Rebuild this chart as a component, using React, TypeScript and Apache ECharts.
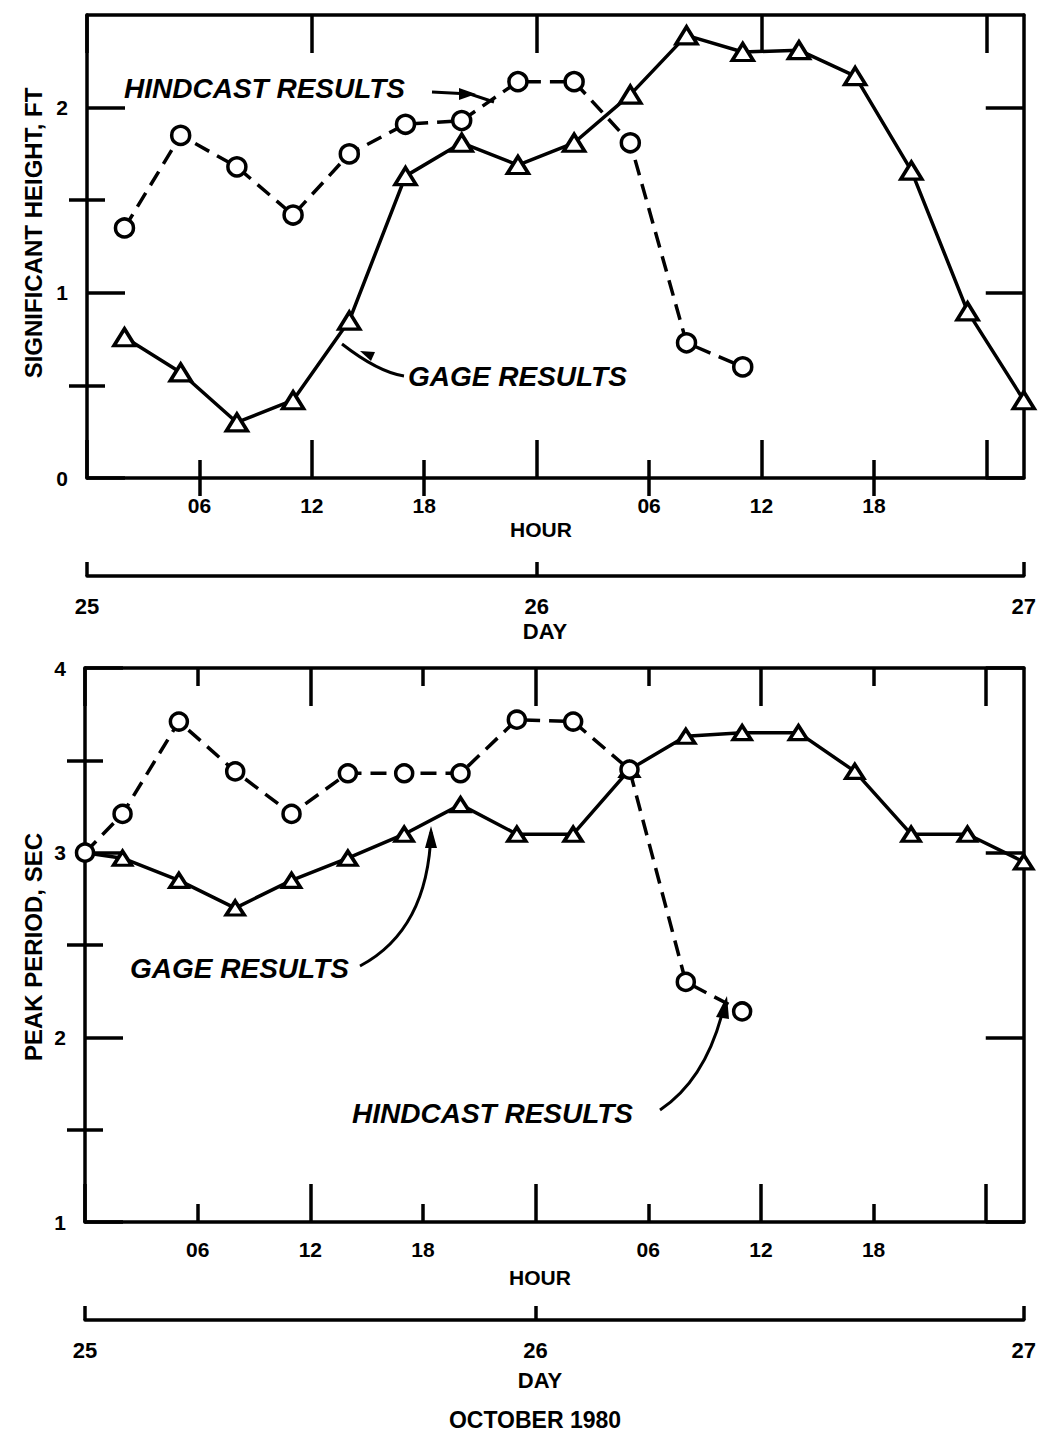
import React, { useEffect, useRef } from 'react';
import * as echarts from 'echarts';

// ---------- data ----------
const GAGE_HEIGHT_HOURS = [2, 5, 8, 11, 14, 17, 20, 23, 26, 29, 32, 35, 38, 41, 44, 47, 50];
const GAGE_HEIGHT = [0.76, 0.57, 0.30, 0.42, 0.85, 1.63, 1.81, 1.69, 1.81, 2.07, 2.39, 2.30, 2.31, 2.17, 1.66, 0.90, 0.42];
const HIND_HEIGHT_HOURS = [2, 5, 8, 11, 14, 17, 20, 23, 26, 29, 32, 35];
const HIND_HEIGHT = [1.35, 1.85, 1.68, 1.42, 1.75, 1.91, 1.93, 2.14, 2.14, 1.81, 0.73, 0.60];

const GAGE_PERIOD_HOURS = [0, 2, 5, 8, 11, 14, 17, 20, 23, 26, 29, 32, 35, 38, 41, 44, 47, 50];
const GAGE_PERIOD = [3.0, 2.97, 2.85, 2.70, 2.85, 2.97, 3.10, 3.26, 3.10, 3.10, 3.45, 3.63, 3.65, 3.65, 3.44, 3.10, 3.10, 2.95];
const HIND_PERIOD_HOURS = [0, 2, 5, 8, 11, 14, 17, 20, 23, 26, 29, 32, 35];
const HIND_PERIOD = [3.0, 3.21, 3.71, 3.44, 3.21, 3.43, 3.43, 3.43, 3.72, 3.71, 3.45, 2.30, 2.14];

const HOUR_LABEL_VALUES = [6, 12, 18, 30, 36, 42];
const HOUR_MAJOR_TICKS = [0, 12, 24, 36, 48];
const HOUR_MINOR_TICKS = [6, 18, 30, 42];
const DAY_POSITIONS = [0, 24, 50];
const DAY_LABELS = ['25', '26', '27'];

const HEIGHT_MAJOR = [0, 1, 2];
const HEIGHT_MINOR = [0.5, 1.5];
const PERIOD_MAJOR = [1, 2, 3, 4];
const PERIOD_MINOR = [1.5, 2.5, 3.5];

const FONT = '"Liberation Sans", Arial, Helvetica, sans-serif';
const BLACK = '#000';
const LW = 3.5;

const zip = (xs: number[], ys: number[]) => xs.map((x, i) => [x, ys[i]]);

function hourAxes(gridIndex: number) {
  const base: any = {
    type: 'value', gridIndex, min: 0, max: 50,
    splitLine: { show: false },
    axisLabel: { show: false },
    axisTick: { show: false },
    axisLine: { show: false },
  };
  const line = { show: true, onZero: false, lineStyle: { color: BLACK, width: LW } };
  const tick = (vals: number[], len: number) => ({ show: true, inside: true, length: len, customValues: vals, lineStyle: { color: BLACK, width: LW } });
  return [
    {
      ...base, position: 'bottom', axisLine: line, axisTick: tick(HOUR_MAJOR_TICKS, 38),
      axisLabel: {
        show: true, customValues: HOUR_LABEL_VALUES, margin: 17, color: BLACK, fontSize: 21,
        fontWeight: 'bold', fontFamily: FONT, showMinLabel: true, showMaxLabel: true,
        formatter: (v: number) => String(Math.round(v) % 24).padStart(2, '0'),
      },
    },
    { ...base, position: 'bottom', axisTick: tick(HOUR_MINOR_TICKS, 18) },
    { ...base, position: 'top', axisLine: line, axisTick: tick(HOUR_MAJOR_TICKS, 38) },
    { ...base, position: 'top', axisTick: tick(HOUR_MINOR_TICKS, 18) },
    {
      ...base, position: 'bottom', offset: 98, axisLine: line, axisTick: tick(DAY_POSITIONS, 14),
      axisLabel: {
        show: true, customValues: DAY_POSITIONS, margin: 19, color: BLACK, fontSize: 22,
        fontWeight: 'bold', fontFamily: FONT, showMinLabel: true, showMaxLabel: true,
        formatter: (v: number) => DAY_LABELS[DAY_POSITIONS.indexOf(v)] ?? '',
      },
    },
  ];
}

function valueAxes(gridIndex: number, min: number, max: number, major: number[], minor: number[]) {
  const base: any = {
    type: 'value', gridIndex, min, max, interval: 0.5,
    splitLine: { show: false },
    axisLabel: { show: false },
    axisTick: { show: false },
    axisLine: { show: false },
  };
  const line = { show: true, onZero: false, lineStyle: { color: BLACK, width: LW } };
  const tick = (vals: number[], len: number) => ({ show: true, inside: true, length: len, customValues: vals, lineStyle: { color: BLACK, width: LW } });
  return [
    {
      ...base, position: 'left', axisLine: line, axisTick: tick(major, 38),
      axisLabel: {
        show: true, customValues: major, margin: 19, color: BLACK, fontSize: 21,
        fontWeight: 'bold', fontFamily: FONT, showMinLabel: true, showMaxLabel: true,
        formatter: (v: number) => String(Math.round(v)),
      },
    },
    { ...base, position: 'left', axisTick: tick(minor, 18) },
    { ...base, position: 'right', axisLine: line, axisTick: tick(major, 38) },
    { ...base, position: 'right', axisTick: tick(minor, 18) },
  ];
}

function gageSeries(name: string, xi: number, yi: number, data: number[][], size: number[], hideFirst: boolean) {
  return {
    name, type: 'line', xAxisIndex: xi, yAxisIndex: yi,
    data: data.map((d, i) => (hideFirst && i === 0 ? { value: d, symbol: 'none' } : d)),
    symbol: 'triangle', symbolSize: size, showAllSymbol: true,
    lineStyle: { color: BLACK, width: LW },
    itemStyle: { color: '#fff', borderColor: BLACK, borderWidth: LW },
    z: 3,
  };
}

function hindSeries(name: string, xi: number, yi: number, data: number[][], size: number) {
  return {
    name, type: 'line', xAxisIndex: xi, yAxisIndex: yi, data,
    symbol: 'circle', symbolSize: size, showAllSymbol: true,
    lineStyle: { color: BLACK, width: LW, type: [16, 9] },
    itemStyle: { color: '#fff', borderColor: BLACK, borderWidth: LW },
    z: 4,
  };
}

const annText = (text: string, x: number, y: number) => ({
  type: 'text', x, y,
  style: { text, fill: BLACK, font: `italic bold 28px ${FONT}`, verticalAlign: 'middle', align: 'left' },
});
const plainText = (text: string, x: number, y: number, size: number, rotation = 0) => ({
  type: 'text', x, y, rotation,
  style: { text, fill: BLACK, font: `bold ${size}px ${FONT}`, verticalAlign: 'middle', align: 'center' },
});
const stroke = { stroke: BLACK, lineWidth: 3, fill: 'none' };

export default function App() {
  const ref = useRef<HTMLDivElement>(null);
  useEffect(() => {
    if (!ref.current) return;
    const chart = echarts.init(ref.current, null, { renderer: 'svg' });
    const option: any = {
      animation: false,
      backgroundColor: '#fff',
      grid: [
        { left: 87, right: 9, top: 15, height: 463, show: false },
        { left: 85, right: 9, top: 668, height: 554, show: false },
      ],
      xAxis: [...hourAxes(0), ...hourAxes(1)],
      yAxis: [
        ...valueAxes(0, 0, 2.5, HEIGHT_MAJOR, HEIGHT_MINOR),
        ...valueAxes(1, 1, 4, PERIOD_MAJOR, PERIOD_MINOR),
      ],
      series: [
        gageSeries('Gage results (height)', 0, 0, zip(GAGE_HEIGHT_HOURS, GAGE_HEIGHT), [21, 17], false),
        hindSeries('Hindcast results (height)', 0, 0, zip(HIND_HEIGHT_HOURS, HIND_HEIGHT), 18),
        gageSeries('Gage results (period)', 5, 4, zip(GAGE_PERIOD_HOURS, GAGE_PERIOD), [18, 14], true),
        hindSeries('Hindcast results (period)', 5, 4, zip(HIND_PERIOD_HOURS, HIND_PERIOD), 17),
      ],
      graphic: [
        plainText('SIGNIFICANT HEIGHT, FT', 33, 233, 24, Math.PI / 2),
        plainText('PEAK PERIOD, SEC', 33, 947, 24, Math.PI / 2),
        plainText('HOUR', 541, 529, 21),
        plainText('DAY', 545, 631, 22),
        plainText('HOUR', 540, 1277, 21),
        plainText('DAY', 540, 1380, 22),
        plainText('OCTOBER 1980', 535, 1420, 23),
        // top annotations
        annText('HINDCAST RESULTS', 124, 88),
        { type: 'polyline', shape: { points: [[432, 92], [470, 94], [494, 102]] }, style: stroke },
        { type: 'polygon', shape: { points: [[476, 94], [459, 88], [459, 100]] }, style: { fill: BLACK } },
        annText('GAGE RESULTS', 408, 376),
        { type: 'bezierCurve', shape: { x1: 404, y1: 376, x2: 342, y2: 344, cpx1: 378, cpy1: 372 }, style: stroke },
        { type: 'polygon', shape: { points: [[360, 351], [375, 352], [371, 361]] }, style: { fill: BLACK } },
        // bottom annotations
        annText('GAGE RESULTS', 130, 968),
        { type: 'bezierCurve', shape: { x1: 360, y1: 966, x2: 431, y2: 832, cpx1: 428, cpy1: 930 }, style: stroke },
        { type: 'polygon', shape: { points: [[431, 826], [425, 848], [437, 848]] }, style: { fill: BLACK } },
        annText('HINDCAST RESULTS', 352, 1113),
        { type: 'bezierCurve', shape: { x1: 660, y1: 1110, x2: 725, y2: 1002, cpx1: 708, cpy1: 1078 }, style: stroke },
        { type: 'polygon', shape: { points: [[727, 996], [716, 1017], [729, 1019]] }, style: { fill: BLACK } },
      ],
    };
    chart.setOption(option);
    return () => chart.dispose();
  }, []);
  return <div ref={ref} style={{ position: 'absolute', left: 0, top: 0, width: 1039, height: 1432 }} />;
}
